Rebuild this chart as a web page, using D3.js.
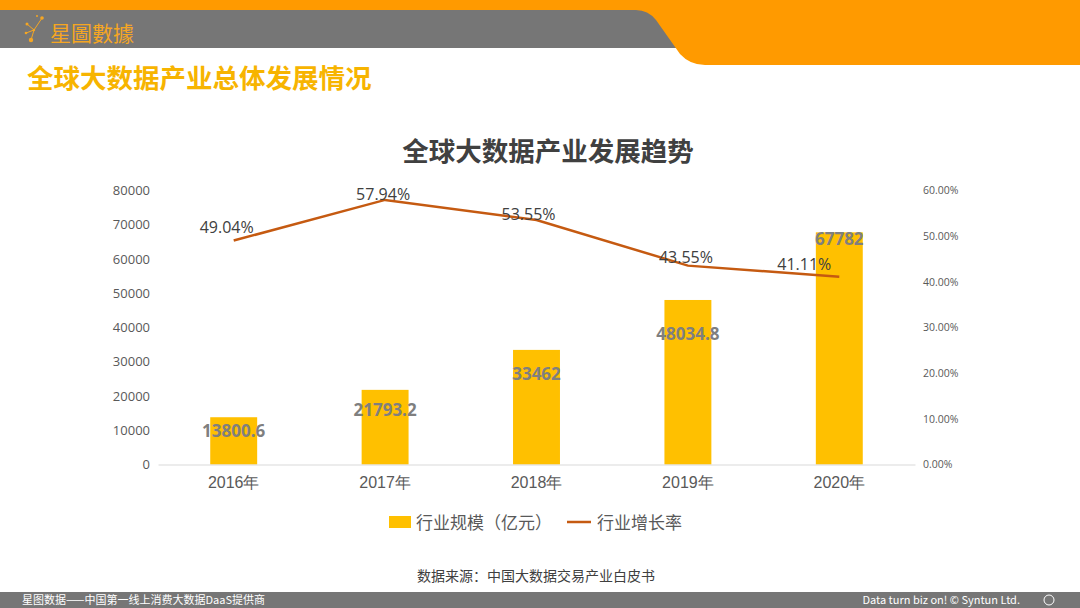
<!DOCTYPE html>
<html>
<head>
<meta charset="utf-8">
<script src="https://cdn.jsdelivr.net/npm/d3@7"></script>
<style>
  body { margin: 0; background: #fff; }
  svg { display: block; font-family: "Noto Sans CJK SC", "Noto Sans", sans-serif; }
</style>
</head>
<body>
<div id="chart"></div>
<script>
const years = ["2016年", "2017年", "2018年", "2019年", "2020年"];
const scale = [13800.6, 21793.2, 33462, 48034.8, 67782];
const growth = [49.04, 57.94, 53.55, 43.55, 41.11];
const scaleLabels = ["13800.6", "21793.2", "33462", "48034.8", "67782"];
const growthLabels = ["49.04%", "57.94%", "53.55%", "43.55%", "41.11%"];
const leftTicks = [0, 10000, 20000, 30000, 40000, 50000, 60000, 70000, 80000];
const rightTicks = [0, 10, 20, 30, 40, 50, 60];

const width = 1080, height = 608;
const orange = "#FF9A00";
const grey = "#767676";

// label nudges, as excel left them
const barNudge = [20, 26, 30, 40, 13];
const lineNudgeY = [-8, 0, 0, -3, -7];
const lineNudgeX = [-7, -2, -8, -2, -35];

const svg = d3.select("#chart").append("svg")
    .attr("width", width)
    .attr("height", height);

// header
svg.append("rect").attr("x", 0).attr("y", 0).attr("width", width).attr("height", 48).attr("fill", grey);
svg.append("path")
    .attr("fill", orange)
    .attr("d", "M0,0 H1080 V65 H705 Q690,65 680,54 L656,20 Q648,10 636,10 H0 Z");

// logo
const logo = svg.append("g").attr("stroke", "#F5A623").attr("fill", "#F5A623");
logo.append("path").attr("fill", "none").attr("stroke-width", 1)
    .attr("d", "M27,24 L34,30 L42,18 M34,30 L31,40 M34,30 L26,33");
[[27, 24, 1.5], [42, 18, 1.8], [31, 40, 2.2], [26, 33, 1.3], [34, 30, 1.2], [37, 16, 1]].forEach(p => {
    logo.append("circle").attr("cx", p[0]).attr("cy", p[1]).attr("r", p[2]).attr("stroke", "none");
});
svg.append("text").attr("x", 50).attr("y", 41)
    .attr("fill", "#F5A623").attr("font-size", 21)
    .text("星圖數據");

svg.append("text").attr("x", 27).attr("y", 88)
    .attr("fill", "#F7B400").attr("font-size", 26.5).attr("font-weight", "bold")
    .text("全球大数据产业总体发展情况");

// footer
svg.append("rect").attr("x", 0).attr("y", 592).attr("width", width).attr("height", 16).attr("fill", grey);
svg.append("text").attr("x", 22).attr("y", 604).attr("fill", "#fff").attr("font-size", 11)
    .text("星图数据——中国第一线上消费大数据DaaS提供商");
svg.append("text").attr("x", 1020).attr("y", 604).attr("fill", "#fff").attr("font-size", 11)
    .attr("text-anchor", "end").text("Data turn biz on! © Syntun Ltd.");
svg.append("circle").attr("cx", 1049).attr("cy", 600).attr("r", 5)
    .attr("fill", "none").attr("stroke", "#fff").attr("stroke-width", 1);

// chart title
svg.append("text").attr("x", 548).attr("y", 161)
    .attr("text-anchor", "middle").attr("fill", "#404040")
    .attr("font-size", 26.5).attr("font-weight", "bold")
    .text("全球大数据产业发展趋势");

// scales
const x = d3.scaleBand().domain(years).range([158, 915]).paddingInner(0.69).paddingOuter(0.345);
const y = d3.scaleLinear().domain([0, 80000]).range([464.5, 190.5]);
const y2 = d3.scaleLinear().domain([0, 60]).range([464.5, 190.5]);

// left axis
const yAxis = svg.append("g")
    .attr("transform", "translate(150,0)")
    .call(d3.axisLeft(y).tickValues(leftTicks).tickSize(0).tickPadding(0).tickFormat(d3.format("d")));
yAxis.select(".domain").remove();
yAxis.selectAll("text").attr("fill", "#595959").attr("font-size", 13)
    .attr("font-family", "'Open Sans', 'Noto Sans', sans-serif");

// right axis
const y2Axis = svg.append("g")
    .attr("transform", "translate(923,0)")
    .call(d3.axisRight(y2).tickValues(rightTicks).tickSize(0).tickPadding(0).tickFormat(d => d.toFixed(2) + "%"));
y2Axis.select(".domain").remove();
y2Axis.selectAll("text").attr("fill", "#595959").attr("font-size", 10.5)
    .attr("font-family", "'Open Sans', 'Noto Sans', sans-serif");

// bars
svg.selectAll(".bar").data(scale).enter().append("rect")
    .attr("class", "bar")
    .attr("x", (d, i) => x(years[i]))
    .attr("y", d => y(d))
    .attr("width", x.bandwidth())
    .attr("height", d => y(0) - y(d))
    .attr("fill", "#FFC000");

// x axis
const xAxis = svg.append("g")
    .attr("transform", "translate(0," + y(0) + ")")
    .call(d3.axisBottom(x).tickSize(0).tickPadding(12));
xAxis.select(".domain").attr("stroke", "#D9D9D9").attr("stroke-width", 1);
xAxis.selectAll("text").attr("fill", "#595959").attr("font-size", 16);

// bar labels
svg.selectAll(".bar-label").data(scale).enter().append("text")
    .attr("class", "bar-label")
    .attr("x", (d, i) => x(years[i]) + x.bandwidth() / 2)
    .attr("y", (d, i) => y(d) + barNudge[i])
    .attr("text-anchor", "middle")
    .attr("fill", "#7F7F7F").attr("font-size", 17).attr("font-weight", "bold")
    .attr("font-family", "'Open Sans', 'Noto Sans', sans-serif")
    .text((d, i) => scaleLabels[i]);

// growth line
const cx = i => x(years[i]) + x.bandwidth() / 2;
const line = d3.line().x((d, i) => cx(i)).y(d => y2(d));
svg.append("path").datum(growth)
    .attr("d", line)
    .attr("fill", "none")
    .attr("stroke", "#C55A11")
    .attr("stroke-width", 2.5);

svg.selectAll(".line-label").data(growth).enter().append("text")
    .attr("class", "line-label")
    .attr("x", (d, i) => cx(i) + lineNudgeX[i])
    .attr("y", (d, i) => y2(d) + lineNudgeY[i])
    .attr("text-anchor", "middle")
    .attr("fill", "#404040").attr("font-size", 16)
    .attr("font-family", "'Open Sans', 'Noto Sans', sans-serif")
    .text((d, i) => growthLabels[i]);

// legend
const legend = svg.append("g");
legend.append("rect").attr("x", 389).attr("y", 516).attr("width", 22).attr("height", 12).attr("fill", "#FFC000");
legend.append("text").attr("x", 416).attr("y", 529).attr("fill", "#595959").attr("font-size", 17)
    .text("行业规模（亿元）");
legend.append("line").attr("x1", 567).attr("x2", 591).attr("y1", 522).attr("y2", 522)
    .attr("stroke", "#C55A11").attr("stroke-width", 2.5);
legend.append("text").attr("x", 597).attr("y", 529).attr("fill", "#595959").attr("font-size", 17)
    .text("行业增长率");

// source
svg.append("text").attr("x", 536).attr("y", 581)
    .attr("text-anchor", "middle").attr("fill", "#404040").attr("font-size", 14)
    .text("数据来源：中国大数据交易产业白皮书");
</script>
</body>
</html>
